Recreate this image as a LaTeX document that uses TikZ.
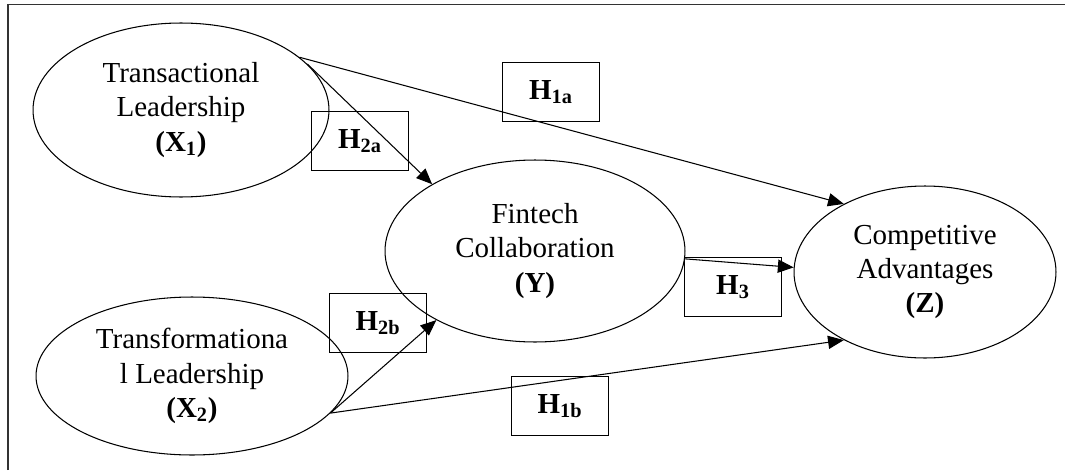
\documentclass[tikz,border=0pt]{standalone}
\usepackage{fontspec}
\setmainfont{Liberation Serif}
\usepackage{tikz}
\usetikzlibrary{shapes.geometric}
\usetikzlibrary{arrows.meta}

\begin{document}
\begin{tikzpicture}[x=0.02cm,y=-0.02cm]
\tikzset{
    construct/.style={draw, ellipse, inner sep=0pt, line width=0.6pt, align=center,
        font=\fontsize{16.5}{19.5}\selectfont},
    hypo/.style={draw, rectangle, inner sep=0pt, line width=0.6pt,
        minimum width=1.94cm, minimum height=1.18cm,
        font=\fontsize{16.5}{19.5}\selectfont\bfseries},
    effect/.style={line width=0.6pt, -{Triangle[length=9pt,width=7.5pt]}},
}
\useasboundingbox (0,0) rectangle (1065,470);

% Frame (cut at right and bottom)
\draw[line width=0.8pt, black!80] (8,470) -- (8,4.5) -- (1065,4.5);

% Constructs
\node[construct, minimum width=5.92cm, minimum height=3.48cm] (X1) at (181,110)
    {Transactional\\Leadership\\\textbf{(X\textsubscript{1})}};
\node[construct, minimum width=6.24cm, minimum height=3.16cm] (X2) at (192,376)
    {Transformationa\\l Leadership\\\textbf{(X\textsubscript{2})}};
\node[construct, minimum width=6.0cm, minimum height=3.64cm] (Y) at (535,251)
    {Fintech\\Collaboration\\\textbf{(Y)}};
\node[construct, minimum width=5.24cm, minimum height=3.44cm] (Z) at (925,272)
    {Competitive\\Advantages\\\textbf{(Z)}};

% Hypothesis labels
\foreach \n/\x/\y/\s in {H1a/551/92/1a, H2a/360/141/2a, H2b/378/323/2b,
                         H3/733/287/3, H1b/560/406/1b}{
    \node[hypo] (\n) at (\x,\y) {H\textsubscript{\s}};
}

% Paths
\foreach \a/\b in {X1.24/Z.140, X1.20/Y.147, X2.-15/Y.215, X2.-15/Z.220, Y.-3/Z.178}{
    \draw[effect] (\a) -- (\b);
}

\end{tikzpicture}
\end{document}
